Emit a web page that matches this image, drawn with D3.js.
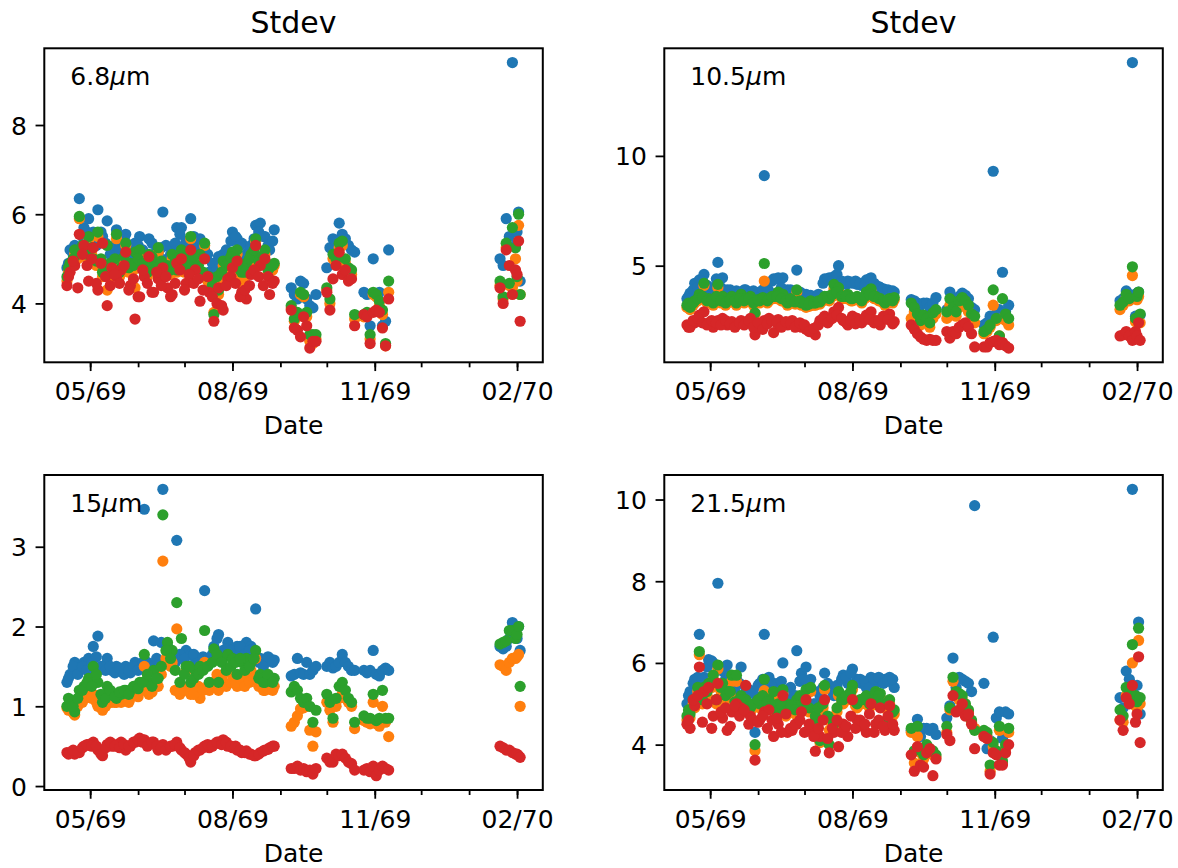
<!DOCTYPE html>
<html>
<head>
<meta charset="utf-8">
<script src="https://cdn.jsdelivr.net/npm/d3@7"></script>
<style>
  body { margin: 0; background: #fff; }
  svg { display: block; font-family: "DejaVu Sans", sans-serif; }
</style>
</head>
<body>
<svg id="chart" width="1178" height="868"></svg>
<script>
// observation days, counted from 1969-04-01
const obsDays = [
  15, 17, 20, 23, 26, 29, 32, 35, 38, 41, 44, 47, 50, 53, 56, 59, 62, 65, 68, 71, 74, 77, 80,
  83, 86, 89, 92, 95, 98, 101, 104, 107, 110, 113, 116, 119, 122, 125, 128, 131, 134, 137, 140,
  143, 146, 149,
  160, 162, 164, 166, 168, 170, 172, 174, 176,
  183, 185, 187, 189, 191, 193, 195, 197, 199, 201,
  207, 209, 211, 213, 215, 217, 219, 221, 223,
  295, 297, 299, 301, 303, 305, 306, 307, 308,
  // second pass over the spring/summer run
  16, 19, 22, 25, 28, 31, 34, 37, 40, 43, 46, 49, 52, 55, 58, 61, 64, 67, 70, 73, 76, 79, 82,
  85, 88, 91, 94, 97, 100, 103, 106, 109, 112, 115, 118, 121, 124, 127, 130, 133, 136, 139, 142,
  145, 148
];
const startDate = Date.UTC(1969, 3, 1);
const majorTickDates = ["1969-05-01", "1969-08-01", "1969-11-01", "1970-02-01"];
const seriesColors = ["#1f77b4", "#ff7f0e", "#2ca02c", "#d62728"];

// 6.8 um
const w68_s1 = [4.8, 5.2, 5.3, 6.35, 5.7, 5.9, 5.6, 6.1, 5.5, 5.85, 5.2, 5.65, 5.2, 5.55, 5.3, 5.35, 5.5, 5.1, 5.45, 5.0, 5.1, 6.05, 5.0, 5.25, 5.7, 5.7, 5.4, 5.9, 5.3, 5.45, 5.2, 4.7, 4.9, 5.05, 5.1, 5.1, 5.6, 5.45, 5.35, 5.1, 5.3, 5.75, 5.8, 5.5, 5.2, 5.65,
  4.35, 4.2, 4.1, 4.5, 4.45, 4.1, 3.95, 3.9, 4.2,
  4.8, 5.25, 5.45, 5.3, 5.8, 5.55, 5.45, 5.3, 5.2, 5.15,
  4.25, 4.2, 3.5, 5.0, 4.2, 4.25, 3.5, 3.6, 5.2,
  5.0, 4.85, 5.9, 5.5, 9.4, 5.3, 5.6, 6.05, 4.5,
  4.9, 5.1, 5.2, 5.5, 5.6, 5.4, 5.3, 5.6, 5.35, 5.1, 5.3, 5.2, 5.45, 5.25, 5.1, 5.3, 5.2, 5.0, 5.35, 5.2, 5.25, 5.3, 5.1, 5.35, 5.55, 5.3, 5.25, 5.5, 5.2, 5.3, 5.1, 4.9, 4.75, 5.0, 5.2, 5.4, 5.5, 5.3, 5.0, 5.2, 5.45, 5.6, 5.5, 5.3, 5.4];
const w68_s2 = [4.5, 4.8, 5.1, 5.9, 5.2, 5.4, 4.9, 5.5, 4.6, 4.3, 4.6, 5.45, 4.7, 5.3, 4.8, 4.35, 5.1, 4.7, 5.0, 4.8, 5.15, 4.6, 4.75, 5.0, 4.7, 5.1, 4.95, 5.45, 4.75, 5.0, 5.3, 4.5, 3.8, 4.2, 4.85, 4.8, 5.1, 5.1, 4.45, 4.8, 5.0, 5.4, 5.0, 5.1, 4.7, 4.85,
  3.9, 3.6, 3.7, 4.2, 4.15, 3.7, 3.15, 3.1, 3.2,
  4.3, 4.0, 5.0, 4.9, 5.25, 5.3, 4.9, 4.7, 4.65, 3.65,
  3.7, 3.75, 3.2, 4.2, 4.15, 3.95, 3.75, 3.05, 4.25,
  4.4, 4.1, 5.25, 4.4, 4.35, 5.0, 4.5, 5.75, 4.2,
  4.7, 4.9, 5.0, 5.2, 5.0, 5.1, 4.85, 4.9, 4.75, 4.8, 4.9, 4.6, 4.95, 4.7, 4.75, 4.9, 4.8, 4.6, 4.95, 4.7, 4.85, 4.7, 4.65, 4.9, 4.95, 4.7, 4.8, 4.95, 4.75, 4.6, 4.5, 4.3, 4.5, 4.6, 4.75, 4.95, 4.9, 4.65, 4.6, 4.9, 5.1, 4.85, 4.9, 4.65, 4.75];
const w68_s3 = [4.6, 4.9, 5.2, 5.95, 5.3, 5.5, 5.0, 5.6, 4.7, 5.3, 4.7, 5.55, 4.8, 5.35, 4.9, 5.15, 5.2, 4.8, 5.1, 4.9, 5.25, 4.7, 4.85, 5.1, 4.75, 5.2, 5.05, 5.5, 4.8, 5.1, 5.35, 4.6, 3.75, 4.3, 4.95, 4.9, 5.15, 5.2, 4.7, 4.9, 5.1, 5.45, 5.05, 5.2, 4.8, 4.9,
  3.95, 3.65, 3.8, 4.25, 4.2, 3.8, 3.3, 3.3, 3.3,
  4.35, 4.1, 5.1, 5.0, 5.35, 5.4, 5.0, 4.8, 4.75, 3.75,
  3.75, 3.8, 3.3, 4.25, 4.2, 4.05, 3.85, 3.1, 4.5,
  4.5, 4.15, 5.35, 4.45, 5.7, 5.25, 4.6, 6.0, 4.2,
  4.8, 5.0, 5.1, 5.3, 5.1, 5.25, 4.95, 5.0, 4.85, 4.9, 5.0, 4.7, 5.05, 4.8, 4.85, 5.0, 4.9, 4.7, 5.05, 4.8, 4.95, 4.8, 4.75, 5.0, 5.05, 4.8, 4.9, 5.05, 4.85, 4.7, 4.6, 4.4, 4.6, 4.7, 4.85, 5.05, 5.0, 4.75, 4.7, 5.0, 5.2, 4.95, 5.0, 4.75, 4.85];
const w68_s4 = [4.4, 4.7, 4.85, 5.55, 5.3, 4.5, 5.25, 4.3, 5.35, 3.95, 4.8, 4.6, 4.75, 5.15, 4.4, 3.65, 4.15, 4.6, 5.05, 4.25, 4.55, 4.8, 4.35, 4.2, 4.9, 5.0, 4.45, 5.2, 4.75, 4.05, 5.0, 4.25, 3.6, 4.35, 3.85, 4.55, 4.8, 4.95, 4.25, 4.1, 4.65, 5.3, 4.85, 5.0, 4.2, 4.5,
  3.85, 3.45, 3.4, 3.25, 3.7, 3.5, 3.0, 3.15, 3.15,
  4.25, 3.85, 4.55, 4.85, 5.15, 4.65, 4.75, 4.5, 4.55, 3.5,
  3.75, 3.7, 3.1, 3.8, 3.85, 3.8, 3.45, 3.05, 4.1,
  4.35, 4.0, 5.2, 4.85, 4.2, 4.75, 4.65, 5.4, 3.6,
  4.6, 4.95, 4.35, 5.1, 4.85, 5.0, 4.45, 4.9, 4.6, 4.4, 4.65, 4.45, 4.85, 4.3, 4.55, 4.15, 4.75, 4.45, 4.25, 4.7, 4.4, 4.6, 4.15, 4.45, 4.75, 4.3, 4.65, 4.45, 4.55, 4.3, 4.6, 4.15, 4.0, 3.95, 4.4, 4.6, 4.45, 4.15, 4.3, 4.4, 4.75, 4.6, 4.4, 4.6, 4.45];

// 10.5 um
const w105_s1 = [3.5, 3.75, 4.2, 4.35, 4.6, 3.9, 4.0, 5.15, 4.45, 3.9, 3.7, 3.85, 3.75, 3.9, 3.8, 3.6, 3.8, 9.1, 3.85, 4.4, 4.45, 4.45, 3.9, 3.85, 4.8, 3.75, 3.7, 3.65, 3.55, 3.5, 4.4, 4.45, 4.5, 5.0, 4.2, 4.3, 4.2, 4.15, 4.1, 4.35, 4.45, 4.1, 4.0, 3.9, 3.85, 3.8,
  3.45, 3.4, 3.3, 3.2, 3.3, 3.3, 3.1, 3.3, 3.55,
  3.0, 3.8, 3.3, 3.2, 3.6, 3.75, 3.65, 3.5, 3.1, 3.0,
  2.3, 2.4, 2.7, 9.3, 2.8, 3.0, 4.7, 2.9, 3.2,
  3.4, 3.5, 3.85, 3.7, 14.25, 2.7, 3.75, 3.8, 2.75,
  3.6, 3.9, 4.0, 4.3, 4.1, 3.8, 4.4, 4.0, 3.8, 3.9, 3.75, 3.8, 3.9, 3.7, 3.85, 3.7, 3.9, 3.95, 4.3, 4.4, 4.0, 3.8, 3.9, 3.7, 3.8, 3.65, 3.6, 3.5, 3.7, 4.2, 4.4, 4.3, 4.6, 4.3, 4.15, 4.25, 4.3, 4.2, 4.1, 4.4, 4.2, 4.05, 3.95, 3.9, 3.85];
const w105_s2 = [3.1, 3.0, 3.3, 3.6, 4.1, 3.4, 3.2, 4.0, 3.5, 3.3, 3.5, 3.2, 3.6, 3.4, 3.5, 2.8, 3.3, 4.3, 3.4, 3.5, 3.7, 3.6, 3.2, 3.3, 3.8, 3.2, 3.1, 3.3, 3.2, 3.25, 3.5, 3.4, 3.95, 3.9, 3.5, 3.6, 3.4, 3.5, 3.3, 3.7, 3.85, 3.5, 3.4, 3.2, 3.4, 3.45,
  2.6, 2.9, 2.6, 2.3, 2.5, 2.4, 2.2, 2.6, 2.8,
  2.6, 3.2, 2.9, 2.7, 3.1, 3.3, 3.2, 2.9, 2.6, 2.4,
  1.9, 2.0, 2.2, 3.2, 2.5, 1.8, 2.6, 2.5, 2.3,
  3.0, 3.2, 3.55, 3.4, 4.55, 2.45, 3.45, 3.6, 2.4,
  3.2, 3.2, 3.4, 3.5, 3.3, 3.3, 3.5, 3.3, 3.2, 3.35, 3.3, 3.4, 3.3, 3.4, 3.2, 3.35, 3.45, 3.3, 3.5, 3.5, 3.4, 3.3, 3.4, 3.25, 3.3, 3.2, 3.15, 3.2, 3.3, 3.4, 3.5, 3.6, 3.7, 3.5, 3.5, 3.4, 3.45, 3.4, 3.5, 3.6, 3.5, 3.4, 3.3, 3.35, 3.3];
const w105_s3 = [3.2, 3.1, 3.4, 3.7, 4.2, 3.5, 3.3, 4.15, 3.6, 3.4, 3.6, 3.3, 3.7, 3.5, 3.6, 2.85, 3.4, 5.1, 3.5, 3.6, 3.8, 3.7, 3.3, 3.4, 3.9, 3.3, 3.2, 3.4, 3.3, 3.35, 3.6, 3.5, 4.15, 4.0, 3.6, 3.7, 3.5, 3.6, 3.4, 3.8, 3.95, 3.6, 3.5, 3.3, 3.5, 3.55,
  3.3, 3.1, 2.8, 2.5, 2.75, 2.6, 2.4, 2.85, 3.0,
  2.9, 3.5, 3.1, 2.9, 3.4, 3.55, 3.4, 3.2, 2.8, 2.7,
  2.0, 2.1, 2.3, 3.9, 2.6, 1.8, 3.5, 2.8, 2.6,
  3.2, 3.35, 3.7, 3.5, 4.95, 2.6, 3.6, 3.8, 2.8,
  3.3, 3.3, 3.5, 3.6, 3.4, 3.4, 3.6, 3.4, 3.3, 3.45, 3.4, 3.5, 3.4, 3.5, 3.3, 3.45, 3.55, 3.4, 3.6, 3.6, 3.5, 3.4, 3.5, 3.35, 3.4, 3.3, 3.25, 3.3, 3.4, 3.5, 3.6, 3.7, 3.8, 3.6, 3.6, 3.5, 3.55, 3.5, 3.6, 3.7, 3.6, 3.5, 3.4, 3.45, 3.4];
const w105_s4 = [2.3, 2.2, 2.4, 2.75, 2.9, 2.4, 2.2, 2.5, 2.6, 2.3, 2.45, 2.3, 2.5, 2.4, 2.6, 1.85, 2.3, 2.5, 2.6, 1.95, 2.55, 2.4, 2.3, 2.5, 2.3, 2.2, 2.1, 2.0, 1.85, 2.5, 2.7, 2.5, 2.9, 3.1, 2.5, 2.3, 2.7, 2.6, 2.4, 2.75, 2.9, 2.5, 2.3, 2.6, 2.8, 2.45,
  2.3, 2.1, 1.9, 1.75, 1.65, 1.6, 1.65, 1.6, 1.6,
  2.0, 1.7, 2.0, 1.9, 2.2, 2.3, 2.4, 2.2, 1.9, 1.3,
  1.3, 1.3, 1.5, 1.55, 1.6, 1.4, 1.5, 1.35, 1.25,
  1.8, 1.85, 2.0, 1.8, 1.6, 2.0, 1.8, 2.4, 1.6,
  2.2, 2.5, 2.6, 2.4, 2.3, 2.5, 2.4, 2.3, 2.5, 2.35, 2.2, 2.4, 2.3, 2.5, 2.2, 2.4, 2.1, 2.35, 2.5, 2.4, 2.2, 2.45, 2.35, 2.2, 2.4, 2.3, 2.0, 2.15, 2.3, 2.6, 2.4, 2.6, 2.75, 2.6, 2.4, 2.5, 2.35, 2.5, 2.6, 2.55, 2.4, 2.5, 2.7, 2.55, 2.35];

// 15 um
const w15_s1 = [1.3, 1.4, 1.55, 1.45, 1.55, 1.6, 1.75, 1.88, 1.5, 1.6, 1.45, 1.5, 1.45, 1.5, 1.42, 1.55, 1.5, 3.47, 1.5, 1.82, 1.55, 3.72, 1.75, 1.5, 3.08, 1.6, 1.7, 1.65, 1.6, 1.6, 2.45, 1.55, 1.75, 1.9, 1.7, 1.8, 1.65, 1.75, 1.7, 1.8, 1.75, 2.22, 1.6, 1.55, 1.6, 1.58,
  1.38, 1.4, 1.6, 1.42, 1.4, 1.55, 1.4, 1.45, 1.5,
  1.5, 1.55, 1.48, 1.5, 1.55, 1.65, 1.55, 1.5, 1.45, 1.45,
  1.45, 1.42, 1.45, 1.7, 1.4, 1.38, 1.45, 1.48, 1.45,
  1.75, 1.72, 1.75, 1.85, 2.05, 1.95, 1.85, 2.0, 1.7,
  1.35, 1.5, 1.4, 1.5, 1.45, 1.55, 1.62, 1.5, 1.45, 1.5, 1.42, 1.48, 1.4, 1.45, 1.5, 1.45, 1.55, 1.55, 1.5, 1.6, 1.8, 1.55, 1.6, 1.55, 1.65, 1.6, 1.5, 1.65, 1.55, 1.62, 1.6, 1.65, 1.85, 1.6, 1.72, 1.7, 1.65, 1.75, 1.65, 1.7, 1.6, 1.55, 1.5, 1.62, 1.55];
const w15_s2 = [0.98, 1.0, 0.89, 1.05, 1.1, 1.2, 1.15, 1.0, 0.95, 1.05, 1.05, 1.05, 1.05, 1.1, 1.1, 1.15, 1.2, 1.5, 1.15, 1.25, 1.25, 2.82, 1.6, 1.55, 1.97, 1.2, 1.45, 1.15, 1.2, 1.1, 1.55, 1.2, 1.25, 1.2, 1.4, 1.45, 1.4, 1.25, 1.35, 1.4, 1.45, 1.6, 1.3, 1.2, 1.25, 1.25,
  0.75, 0.8, 0.88, 0.97, 0.98, 1.0, 0.7, 0.5, 0.68,
  1.05, 0.95, 0.8, 1.0, 1.1, 1.15, 1.1, 1.05, 1.0, 0.72,
  0.82, 0.8, 0.78, 1.05, 0.78, 0.75, 1.0, 0.8, 0.62,
  1.52, 1.5, 1.45, 1.55, 1.6, 1.6, 1.62, 1.65, 1.0,
  0.95, 0.92, 1.0, 1.05, 1.15, 1.1, 1.05, 0.98, 1.0, 1.1, 1.05, 1.08, 1.1, 1.05, 1.15, 1.12, 1.2, 1.2, 1.18, 1.3, 1.4, 1.6, 1.5, 1.2, 1.15, 1.2, 1.25, 1.15, 1.25, 1.2, 1.25, 1.3, 1.4, 1.35, 1.25, 1.3, 1.3, 1.35, 1.25, 1.3, 1.35, 1.25, 1.2, 1.22, 1.2];
const w15_s3 = [1.0, 1.05, 0.93, 1.2, 1.25, 1.35, 1.5, 1.3, 1.05, 1.25, 1.15, 1.1, 1.15, 1.2, 1.2, 1.25, 1.3, 1.65, 1.3, 1.45, 1.35, 3.4, 1.8, 1.7, 2.3, 1.85, 1.5, 1.3, 1.45, 1.5, 1.95, 1.3, 1.72, 1.3, 1.6, 1.65, 1.6, 1.4, 1.55, 1.6, 1.55, 1.7, 1.4, 1.3, 1.35, 1.35,
  1.18, 1.25, 1.2, 1.1, 1.05, 1.1, 1.0, 0.8, 0.95,
  1.15, 1.05, 0.85, 1.1, 1.25, 1.3, 1.2, 1.1, 1.05, 0.8,
  0.88, 0.85, 0.85, 1.15, 0.82, 0.85, 1.2, 0.85, 0.85,
  1.78, 1.8, 1.82, 1.95, 1.95, 1.85, 1.9, 2.0, 1.25,
  1.1, 1.0, 1.1, 1.2, 1.3, 1.25, 1.4, 1.15, 1.1, 1.2, 1.12, 1.18, 1.2, 1.15, 1.25, 1.22, 1.3, 1.4, 1.25, 1.35, 1.5, 1.7, 1.6, 1.45, 1.3, 1.4, 1.5, 1.35, 1.4, 1.45, 1.5, 1.55, 1.65, 1.55, 1.45, 1.5, 1.55, 1.6, 1.45, 1.5, 1.6, 1.35, 1.3, 1.4, 1.3];
const w15_s4 = [0.42, 0.42, 0.4, 0.42, 0.5, 0.52, 0.55, 0.45, 0.38, 0.52, 0.5, 0.52, 0.55, 0.45, 0.5, 0.55, 0.6, 0.58, 0.52, 0.55, 0.45, 0.52, 0.48, 0.5, 0.55, 0.45, 0.4, 0.3, 0.42, 0.45, 0.5, 0.48, 0.52, 0.55, 0.58, 0.5, 0.48, 0.45, 0.42, 0.44, 0.4, 0.38, 0.42, 0.45, 0.48, 0.5,
  0.22, 0.22, 0.25, 0.2, 0.22, 0.18, 0.2, 0.15, 0.22,
  0.35, 0.3, 0.3, 0.4, 0.38, 0.4, 0.35, 0.3, 0.28, 0.2,
  0.2, 0.22, 0.18, 0.25, 0.13, 0.2, 0.25, 0.22, 0.2,
  0.5, 0.48, 0.45, 0.45, 0.42, 0.4, 0.4, 0.38, 0.36,
  0.4, 0.45, 0.42, 0.48, 0.52, 0.5, 0.5, 0.4, 0.48, 0.55, 0.5, 0.48, 0.52, 0.5, 0.55, 0.58, 0.55, 0.5, 0.55, 0.5, 0.48, 0.45, 0.5, 0.52, 0.48, 0.42, 0.35, 0.38, 0.45, 0.48, 0.52, 0.5, 0.55, 0.52, 0.55, 0.5, 0.5, 0.45, 0.42, 0.4, 0.38, 0.4, 0.44, 0.46, 0.5];

// 21.5 um
const w215_s1 = [5.0, 5.3, 5.6, 6.7, 5.65, 6.08, 6.0, 7.95, 5.8, 5.95, 5.5, 5.6, 5.9, 5.4, 5.3, 4.3, 5.5, 6.7, 5.65, 5.5, 5.5, 6.0, 5.2, 5.0, 6.3, 5.75, 5.9, 5.6, 5.0, 5.2, 5.75, 5.4, 5.2, 5.3, 5.7, 5.5, 5.85, 5.6, 5.5, 5.4, 5.65, 5.5, 5.6, 5.6, 5.65, 5.4,
  4.35, 4.4, 4.62, 4.2, 4.4, 4.4, 4.35, 4.4, 4.25,
  4.65, 4.95, 6.12, 5.4, 5.65, 5.6, 5.55, 5.5, 5.3, 9.85,
  5.5, 3.9, 4.1, 6.63, 4.65, 4.8, 4.15, 4.8, 4.75,
  5.15, 4.9, 5.8, 5.6, 10.25, 5.2, 5.45, 7.0, 4.75,
  5.2, 5.5, 5.65, 5.6, 5.9, 6.05, 5.5, 5.85, 5.6, 5.7, 5.3, 5.5, 5.2, 5.35, 5.25, 5.45, 5.6, 5.5, 5.4, 5.3, 5.55, 5.1, 5.4, 5.2, 5.55, 5.6, 5.4, 5.0, 5.3, 5.4, 5.5, 5.3, 5.45, 5.6, 5.65, 5.75, 5.5, 5.6, 5.55, 5.4, 5.6, 5.65, 5.5, 5.55, 5.6];
const w215_s2 = [4.6, 4.65, 4.9, 6.2, 5.3, 5.4, 5.6, 5.85, 5.4, 5.2, 5.55, 5.55, 5.1, 5.0, 4.8, 3.85, 4.9, 5.32, 5.0, 5.2, 4.9, 5.25, 4.9, 4.8, 5.0, 4.95, 5.25, 5.3, 4.6, 4.05, 5.35, 4.35, 4.4, 5.2, 5.0, 5.1, 5.35, 4.9, 5.0, 5.1, 4.95, 5.2, 5.15, 4.4, 5.0, 4.75,
  4.3, 3.55, 4.2, 3.8, 3.65, 3.9, 3.8, 3.75, 3.7,
  4.3, 4.85, 5.55, 5.2, 5.1, 5.1, 4.95, 4.8, 4.55, 4.4,
  4.25, 4.2, 3.35, 3.95, 3.8, 4.35, 3.55, 3.9, 4.3,
  4.6, 4.55, 5.2, 5.1, 6.0, 4.95, 4.9, 6.55, 5.0,
  4.75, 5.0, 5.3, 5.0, 5.2, 5.4, 5.0, 5.3, 5.1, 5.2, 4.95, 5.0, 4.85, 4.8, 4.9, 5.0, 5.1, 4.95, 4.85, 4.7, 4.9, 4.7, 4.85, 4.75, 5.1, 5.0, 4.8, 4.4, 4.8, 4.9, 4.6, 4.5, 4.8, 5.0, 5.1, 5.2, 4.95, 5.0, 5.05, 4.9, 5.0, 5.1, 4.9, 4.95, 4.7];
const w215_s3 = [4.7, 4.75, 5.0, 6.28, 5.4, 5.5, 5.7, 5.95, 5.5, 5.3, 5.7, 5.7, 5.2, 5.1, 4.9, 4.0, 5.0, 5.6, 5.1, 5.3, 5.0, 5.35, 5.0, 4.9, 5.1, 5.05, 5.35, 5.4, 4.7, 4.1, 5.45, 4.0, 4.5, 5.3, 5.1, 5.2, 5.45, 5.0, 5.1, 5.2, 5.05, 5.3, 5.25, 4.5, 5.1, 4.85,
  4.4, 3.85, 4.45, 3.9, 3.75, 4.0, 3.9, 3.85, 3.75,
  4.45, 4.9, 5.65, 5.3, 5.25, 5.2, 5.0, 4.85, 4.6, 4.35,
  4.35, 4.3, 3.5, 4.05, 3.85, 4.45, 3.6, 4.0, 4.4,
  4.85, 4.7, 5.4, 5.25, 6.45, 5.2, 5.05, 6.85, 5.15,
  4.85, 5.1, 5.4, 5.1, 5.3, 5.5, 5.1, 5.4, 5.2, 5.3, 5.05, 5.1, 4.95, 4.9, 5.0, 5.1, 5.2, 5.05, 4.95, 4.8, 5.0, 4.8, 4.95, 4.85, 5.2, 5.1, 4.9, 4.5, 4.9, 5.0, 4.7, 4.6, 4.9, 5.1, 5.2, 5.3, 5.05, 5.1, 5.15, 5.0, 5.1, 5.2, 5.0, 5.05, 4.8];
const w215_s4 = [4.5, 4.4, 4.95, 5.9, 5.3, 5.4, 4.7, 5.5, 4.65, 4.35, 4.8, 5.0, 4.9, 5.45, 4.7, 3.62, 4.6, 4.8, 4.85, 4.2, 4.5, 5.2, 4.3, 4.35, 4.5, 4.8, 5.1, 4.4, 3.84, 4.2, 5.1, 3.8, 4.3, 3.95, 4.5, 4.2, 5.1, 4.6, 4.45, 4.3, 5.0, 4.5, 4.9, 4.35, 4.95, 4.35,
  3.75, 3.35, 3.95, 3.5, 3.45, 3.8, 3.9, 3.24, 3.65,
  4.25, 4.1, 5.2, 4.8, 4.85, 5.0, 4.7, 4.75, 4.5, 3.9,
  4.2, 4.15, 3.28, 3.8, 3.75, 3.5, 3.5, 3.8, 4.0,
  4.6, 4.35, 5.15, 5.0, 5.45, 4.55, 4.75, 6.15, 4.05,
  4.6, 5.1, 5.2, 4.55, 5.0, 4.4, 5.1, 4.8, 4.9, 4.45, 4.95, 4.7, 4.85, 4.5, 4.6, 4.55, 4.7, 4.4, 4.6, 4.65, 4.3, 4.75, 4.4, 4.5, 4.6, 4.3, 4.5, 4.2, 4.4, 4.6, 4.15, 4.4, 4.6, 4.3, 4.45, 4.7, 4.4, 4.6, 4.5, 4.75, 4.3, 4.6, 4.45, 4.7, 4.5];

const panelLabels = ["6.8", "10.5", "15", "21.5"];
const yTicks68 = [4, 6, 8];
const yTicks105 = [5, 10];
const yTicks15 = [0, 1, 2, 3];
const yTicks215 = [4, 6, 8, 10];

const panels = [
  { label: panelLabels[0], series: [w68_s1, w68_s2, w68_s3, w68_s4], yTicks: yTicks68, col: 0, row: 0 },
  { label: panelLabels[1], series: [w105_s1, w105_s2, w105_s3, w105_s4], yTicks: yTicks105, col: 1, row: 0 },
  { label: panelLabels[2], series: [w15_s1, w15_s2, w15_s3, w15_s4], yTicks: yTicks15, col: 0, row: 1 },
  { label: panelLabels[3], series: [w215_s1, w215_s2, w215_s3, w215_s4], yTicks: yTicks215, col: 1, row: 1 }
];

const dates = obsDays.map(d => d3.utcDay.offset(new Date(startDate), d));
const majorTicks = majorTickDates.map(s => d3.utcParse("%Y-%m-%d")(s));

// layout, pixels
const colX = [44.3, 664.3], colW = 498.5;
const rowY = [48.3, 475], rowH = [314, 315];
const tickFont = 25, titleFont = 30;

const svg = d3.select("#chart");
svg.append("rect").attr("width", 1178).attr("height", 868).attr("fill", "#fff");

const [t0, t1] = d3.extent(dates);
const tPad = (t1 - t0) * 0.05;
const xDomain = [new Date(+t0 - tPad), new Date(+t1 + tPad)];

panels.forEach(p => {
  const w = colW, h = rowH[p.row];
  const g = svg.append("g")
      .attr("transform", "translate(" + colX[p.col] + "," + rowY[p.row] + ")");

  const x = d3.scaleUtc().domain(xDomain).range([0, w]);
  const [lo, hi] = d3.extent(p.series.flat());
  const m = (hi - lo) * 0.05;
  const y = d3.scaleLinear().domain([lo - m, hi + m]).range([h, 0]);

  // points, one series after the other
  p.series.forEach((vals, i) => {
    g.append("g").selectAll("circle")
      .data(vals.map((v, j) => ({ date: dates[j], value: v })))
      .enter().append("circle")
      .attr("cx", d => x(d.date))
      .attr("cy", d => y(d.value))
      .attr("r", 5.6)
      .attr("fill", seriesColors[i]);
  });

  // minor ticks, each month
  const minorAxis = g.append("g")
      .attr("transform", "translate(0," + h + ")")
      .call(d3.axisBottom(x).tickValues(d3.utcMonth.range(xDomain[0], xDomain[1]))
        .tickSize(5).tickFormat(""));
  minorAxis.select(".domain").remove();
  minorAxis.selectAll("line").attr("stroke", "#000").attr("stroke-width", 1.8);

  const xAxis = g.append("g")
      .attr("transform", "translate(0," + h + ")")
      .call(d3.axisBottom(x).tickValues(majorTicks)
        .tickFormat(d3.utcFormat("%m/%y")).tickSize(8.75).tickPadding(11.5));
  xAxis.select(".domain").remove();
  xAxis.attr("font-family", null).attr("font-size", tickFont);
  xAxis.selectAll("line").attr("stroke", "#000").attr("stroke-width", 1.8);
  xAxis.selectAll("text").attr("fill", "#000");

  const yAxis = g.append("g")
      .call(d3.axisLeft(y).tickValues(p.yTicks).tickFormat(d3.format("d"))
        .tickSize(8.75).tickPadding(8.75));
  yAxis.select(".domain").remove();
  yAxis.attr("font-family", null).attr("font-size", tickFont);
  yAxis.selectAll("line").attr("stroke", "#000").attr("stroke-width", 1.8);
  yAxis.selectAll("text").attr("fill", "#000").attr("dy", "0.36em");

  // frame
  g.append("rect")
      .attr("width", w).attr("height", h)
      .attr("fill", "none").attr("stroke", "#000").attr("stroke-width", 2);

  // wavelength label
  const lab = g.append("text")
      .attr("x", 26).attr("y", 37)
      .attr("font-size", tickFont).attr("fill", "#000");
  lab.append("tspan").text(p.label);
  lab.append("tspan").attr("font-style", "italic").text("\u03bc");
  lab.append("tspan").text("m");

  g.append("text")
      .attr("x", w / 2).attr("y", h + 72)
      .attr("text-anchor", "middle")
      .attr("font-size", tickFont).attr("fill", "#000")
      .text("Date");

  if (p.row === 0) {
    g.append("text")
        .attr("x", w / 2).attr("y", -15)
        .attr("text-anchor", "middle")
        .attr("font-size", titleFont).attr("fill", "#000")
        .text("Stdev");
  }
});
</script>
</body>
</html>
